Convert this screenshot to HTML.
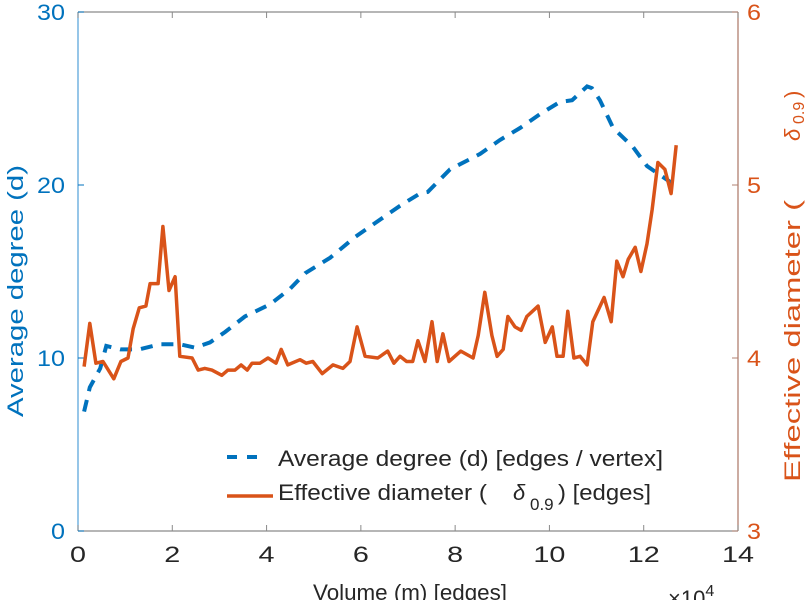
<!DOCTYPE html>
<html><head><meta charset="utf-8"><style>
html,body{margin:0;padding:0;background:#fff;width:812px;height:600px;overflow:hidden}
svg{display:block;font-family:"Liberation Sans",sans-serif}
</style></head><body>
<div style="position:relative;width:812px;height:600px">
<svg id="chart" width="812" height="600" style="position:absolute;left:0;top:0"></svg>
<svg width="812" height="600" style="position:absolute;left:0;top:0">
<g font-size="22" fill="#262626">
  <line x1="227" y1="457" x2="267" y2="457" stroke="#0072BD" stroke-width="4" stroke-dasharray="10,10"/>
  <text x="278" y="466" textLength="385" lengthAdjust="spacingAndGlyphs">Average degree (d) [edges / vertex]</text>
  <line x1="227" y1="496" x2="273" y2="496" stroke="#D95319" stroke-width="3.5"/>
  <text x="278" y="500" textLength="209" lengthAdjust="spacingAndGlyphs">Effective diameter (</text>
  <text x="513" y="500" font-style="italic">δ</text>
  <text x="530" y="510" font-size="17">0.9</text>
  <text x="558" y="500" textLength="93" lengthAdjust="spacingAndGlyphs">) [edges]</text>
</g>
<text transform="translate(23,291) rotate(-90)" text-anchor="middle" font-size="22" fill="#0072BD" textLength="252" lengthAdjust="spacingAndGlyphs">Average degree (d)</text>
<g fill="#D95319" font-size="22">
  <text transform="translate(800,482) rotate(-90)" textLength="282" lengthAdjust="spacingAndGlyphs">Effective diameter (</text>
  <text transform="translate(800,141) rotate(-90)" font-style="italic">δ</text>
  <text transform="translate(804,124) rotate(-90)" font-size="16">0.9</text>
  <text transform="translate(800,98) rotate(-90)">)</text>
</g>
<text x="410" y="600" text-anchor="middle" font-size="22" fill="#262626" textLength="194" lengthAdjust="spacingAndGlyphs">Volume (m) [edges]</text>
<text x="668" y="606" font-size="22" fill="#262626">×10<tspan font-size="16" dy="-10">4</tspan></text>
</svg>
</div>
<script>
const blueX=[0.13,0.25,0.47,0.6,0.9,1.3,1.74,2.16,2.48,2.8,3.12,3.54,4.07,4.5,4.82,5.35,5.88,6.83,7.25,7.42,7.89,8.53,8.95,9.38,9.8,10.22,10.48,10.8,10.9,11.07,11.35,11.77,12.07,12.28,12.71];
const blueY=[6.9,8.3,9.4,10.7,10.5,10.5,10.8,10.8,10.6,10.9,11.5,12.4,13.1,14.0,14.9,15.8,17.0,18.8,19.5,19.6,20.9,21.8,22.6,23.3,24.1,24.8,24.9,25.7,25.6,24.9,23.3,22.2,21.1,20.7,19.9];
const orangeX=[0.13,0.25,0.38,0.53,0.76,0.91,1.06,1.17,1.30,1.44,1.53,1.70,1.80,1.93,2.06,2.16,2.42,2.55,2.69,2.84,3.05,3.18,3.33,3.46,3.59,3.69,3.86,4.03,4.20,4.31,4.45,4.71,4.84,4.98,5.18,5.41,5.62,5.77,5.92,6.09,6.36,6.57,6.70,6.83,6.97,7.10,7.21,7.36,7.51,7.62,7.74,7.87,8.12,8.38,8.49,8.63,8.78,8.89,9.02,9.12,9.27,9.40,9.52,9.76,9.91,10.06,10.16,10.29,10.39,10.52,10.65,10.80,10.92,11.16,11.31,11.43,11.56,11.67,11.82,11.94,12.07,12.18,12.30,12.45,12.58,12.69];
const orangeY=[3.95,4.20,3.97,3.98,3.88,3.98,4.0,4.17,4.29,4.30,4.43,4.43,4.76,4.39,4.47,4.01,4.0,3.93,3.94,3.93,3.90,3.93,3.93,3.96,3.93,3.97,3.97,4.0,3.97,4.05,3.96,3.99,3.97,3.98,3.91,3.96,3.94,3.98,4.18,4.01,4.0,4.04,3.97,4.01,3.98,3.98,4.10,3.98,4.21,3.98,4.14,3.98,4.04,4.0,4.13,4.38,4.13,4.01,4.05,4.24,4.18,4.16,4.24,4.30,4.09,4.18,4.01,4.01,4.27,4.0,4.01,3.96,4.21,4.35,4.21,4.56,4.47,4.57,4.64,4.50,4.66,4.86,5.13,5.09,4.95,5.23];
const xTicks=[0,2,4,6,8,10,12,14];
const leftTicks=[0,10,20,30];
const rightTicks=[3,4,5,6];

const L=78,R=738,T=12,B=531;
const sx=v=>L+(v-0)/14*(R-L);
const syL=v=>B-(v-0)/30*(B-T);
const syR=v=>B-(v-3)/3*(B-T);
const svg=document.getElementById('chart');
const NS='http://www.w3.org/2000/svg';
function mk(tag,attrs,parent){const e=document.createElementNS(NS,tag);for(const k in attrs)e.setAttribute(k,attrs[k]);(parent||svg).appendChild(e);return e;}
const BLUE='#0072BD',ORANGE='#D95319',GREY='#262626',AX='#8a8a8a';

let ax=mk('line',{x1:L,y1:B,x2:R,y2:B,stroke:AX,'stroke-width':1.3});


let at=mk('line',{x1:L,y1:T,x2:R,y2:T,stroke:AX,'stroke-width':1.3});


let al=mk('line',{x1:L,y1:T,x2:L,y2:B,stroke:'#5fa8dc','stroke-width':1.3});


let ar=mk('line',{x1:R,y1:T,x2:R,y2:B,stroke:'#b08070','stroke-width':1.3});



xTicks.forEach(t=>{
  const x=sx(t);
  const tk=mk('line',{x1:x,y1:B,x2:x,y2:B-6,stroke:AX,'stroke-width':1});
  
  
  const tk2=mk('line',{x1:x,y1:T,x2:x,y2:T+6,stroke:AX,'stroke-width':1});
  
  
  const s=String(t);
  const tx=mk('text',{x:x,y:B+31,'text-anchor':'middle','font-size':22,fill:GREY,textLength:s.length*16,lengthAdjust:'spacingAndGlyphs'});
  tx.textContent=s;
  
  
});
leftTicks.forEach(t=>{
  const y=syL(t);
  const tk=mk('line',{x1:L,y1:y,x2:L+6,y2:y,stroke:BLUE,'stroke-width':1});
  
  
  const s=String(t);
  const tx=mk('text',{x:L-13,y:y+8,'text-anchor':'end','font-size':22,fill:BLUE,textLength:s.length*14,lengthAdjust:'spacingAndGlyphs'});
  tx.textContent=s;
  
  
});
rightTicks.forEach(t=>{
  const y=syR(t);
  const tk=mk('line',{x1:R,y1:y,x2:R-6,y2:y,stroke:'#b08070','stroke-width':1});
  
  
  const tx=mk('text',{x:R+9,y:y+8,'text-anchor':'start','font-size':22,fill:ORANGE,textLength:14,lengthAdjust:'spacingAndGlyphs'});
  tx.textContent=t;
  
  
});

const bp=mk('path',{d:blueX.map((x,i)=>(i?'L':'M')+sx(x).toFixed(1)+','+syL(blueY[i]).toFixed(1)).join(''),fill:'none',stroke:BLUE,'stroke-width':4,'stroke-dasharray':'12,9'});


const op=mk('path',{d:orangeX.map((x,i)=>(i?'L':'M')+sx(x).toFixed(1)+','+syR(orangeY[i]).toFixed(1)).join(''),fill:'none',stroke:ORANGE,'stroke-width':3.5,'stroke-linejoin':'round'});


</script>
</body></html>
